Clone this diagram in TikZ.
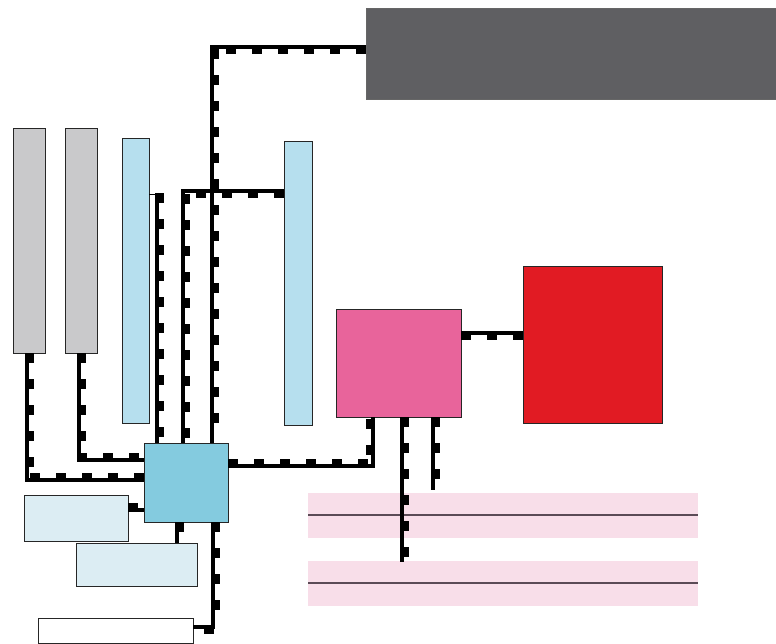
\documentclass[tikz,border=0pt]{standalone}
\usepackage{tikz}
\usetikzlibrary{decorations.markings}
\definecolor{panelgray}{HTML}{5F5F62}
\definecolor{bargray}{HTML}{C9C9CB}
\definecolor{barblue}{HTML}{B6DFEE}
\definecolor{hubblue}{HTML}{84CBDF}
\definecolor{paleblue}{HTML}{DCEDF3}
\definecolor{hotpink}{HTML}{E8649B}
\definecolor{alarmred}{HTML}{E11B23}
\definecolor{bandpink}{HTML}{F8DEE9}
\definecolor{bandline}{HTML}{5B4B56}
\tikzstyle{box} = [rectangle, draw=black!85, line width=0.9pt, inner sep=0pt, outer sep=0pt]
\tikzstyle{band} = [rectangle, fill=bandpink, inner sep=0pt, outer sep=0pt, minimum width=390pt, minimum height=45pt]
\tikzstyle{busl} = [line width=4pt, postaction={decorate, decoration={markings,
  mark=between positions 5pt and 1 step 26pt with {\fill (-5pt,0pt) rectangle (5pt,7pt);}}}]
\tikzstyle{busr} = [line width=4pt, postaction={decorate, decoration={markings,
  mark=between positions 5pt and 1 step 26pt with {\fill (-5pt,0pt) rectangle (5pt,-7pt);}}}]

\begin{document}
\begin{tikzpicture}[x=1pt, y=-1pt]
  \useasboundingbox (0,0) rectangle (776,644);

  % Top panel
  \node[box, draw=black!60, fill=panelgray, minimum width=410pt, minimum height=91pt] (panel) at (571,53.5) {};

  % Bars
  \node[box, fill=bargray, minimum width=32pt, minimum height=225pt] (g1) at (29.5,240.5) {};
  \node[box, fill=bargray, minimum width=32pt, minimum height=225pt] (g2) at (81.7,240.5) {};
  \node[box, fill=barblue, minimum width=27pt, minimum height=285pt] (b1) at (135.5,280.5) {};
  \node[box, fill=barblue, minimum width=28pt, minimum height=284pt] (b2) at (298,283) {};

  % Hub and blocks
  \node[box, fill=hubblue, minimum width=84pt, minimum height=79pt] (hub) at (186,482.5) {};
  \node[box, fill=hotpink, minimum width=125pt, minimum height=108pt] (pink) at (398.5,363) {};
  \node[box, fill=alarmred, minimum width=139pt, minimum height=157pt] (red) at (592.5,344.5) {};

  % Lower boxes
  \node[box, fill=paleblue, minimum width=104pt, minimum height=46pt] (lb1) at (76,518) {};
  \node[box, fill=paleblue, minimum width=121pt, minimum height=43pt] (lb2) at (136.5,564.5) {};
  \node[box, fill=white, minimum width=155pt, minimum height=25pt] (wb) at (115.5,630.5) {};

  % Bands
  \node[band] (band1) at (503,515) {};
  \node[band] (band2) at (503,583) {};
  \draw[bandline, line width=1.2pt] (band1.west) -- (band1.east);
  \draw[bandline, line width=1.2pt] (band2.west) -- (band2.east);

  % Bus lines
  \draw[busl] ([xshift=-2.7pt]g1.south) |- ([yshift=3pt]hub.west);
  \draw[busl] ([xshift=-2.7pt]g2.south) |- ([yshift=23pt]hub.west);
  \draw[line width=1pt] ([yshift=85.5pt]b1.east) -- ([xshift=-29pt]hub.north |- 0,195);
  \draw[busl] ([xshift=-29pt]hub.north |- 0,193) -- ([xshift=-29pt]hub.north);
  \draw[busl] ([yshift=92pt]b2.west) -| ([xshift=-3pt]hub.north);
  \draw[busl] ([yshift=6.5pt]panel.west) -| ([xshift=26pt]hub.north);
  \draw[busl] ([yshift=16.5pt]hub.east) -| ([xshift=-25.5pt]pink.south);
  \draw[busr] ([yshift=30pt]pink.east) -- ([yshift=30pt]pink.east -| red.west);

  % Drops to the bands
  \coordinate (drop1) at (402,562);
  \coordinate (drop2) at (433,490);
  \draw[busl] ([xshift=3.5pt]pink.south) -- (drop1);
  \draw[busl] ([xshift=34.5pt]pink.south) -- (drop2);

  % Lower links
  \draw[busl] ([yshift=8pt]lb1.east) -- ([yshift=8pt]lb1.east -| hub.west);
  \draw[busl] ([xshift=-9pt]hub.south) -- ([xshift=-9pt]hub.south |- lb2.north);
  \draw[busl] ([xshift=27pt]hub.south) |- ([yshift=3.5pt]wb.east);
\end{tikzpicture}
\end{document}
